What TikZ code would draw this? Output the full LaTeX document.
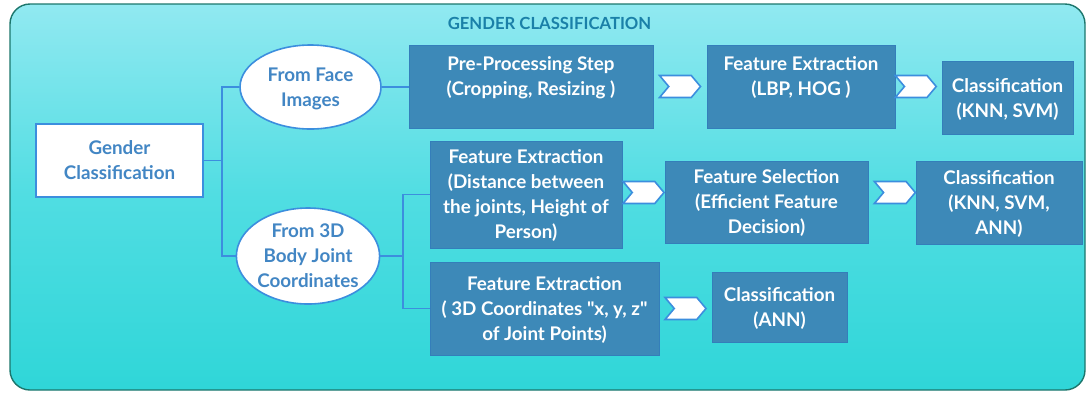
\documentclass[tikz,border=0pt]{standalone}
\usepackage{fontspec}
\setmainfont{Lato}[Ligatures=TeXOff]
\usetikzlibrary{shapes.geometric,shapes.symbols}

\definecolor{panelTop}{RGB}{145,233,241}
\definecolor{panelMid}{RGB}{80,221,226}
\definecolor{panelBot}{RGB}{47,214,216}
\definecolor{panelEdge}{RGB}{28,118,108}
\definecolor{titleCol}{RGB}{26,128,168}
\definecolor{stepFill}{RGB}{61,137,184}
\definecolor{stepEdge}{RGB}{52,126,186}
\definecolor{linkCol}{RGB}{60,142,222}
\definecolor{softText}{RGB}{66,134,196}

\tikzset{
  x=1pt, y=-1pt,
  txt/.style={font=\bfseries\fontsize{18.8}{25}\selectfont, align=center, inner sep=0pt, text depth=0pt},
  stepbox/.style={txt, rectangle, fill=stepFill, draw=stepEdge, line width=0.8pt, text=white},
  topstep/.style={stepbox, text depth=20pt},
  rootbox/.style={txt, rectangle, fill=white, draw=linkCol, line width=2pt, text=softText},
  branch/.style={txt, ellipse, fill=white, draw=linkCol, line width=1.6pt, text=softText, inner sep=0pt},
  chev/.style={signal, signal from=west, signal to=east, signal pointer angle=100,
               fill=white, draw=linkCol, line width=1.6pt, minimum width=41pt, minimum height=22pt, inner sep=0pt},
  link/.style={draw=linkCol, line width=1.8pt},
}

\begin{document}
\begin{tikzpicture}
\useasboundingbox (0,0) rectangle (1086,392);

% outer panel
\shade[top color=panelTop, bottom color=panelBot, middle color=panelMid]
  [rounded corners=20pt] (10,4) rectangle (1085,390);
\draw[panelEdge, line width=1.4pt, rounded corners=20pt] (10,4) rectangle (1085,390);

\node[font=\bfseries\fontsize{16.7}{20}\selectfont, text=titleCol] (title) at (549.5,23) {GENDER CLASSIFICATION};

% root and the two branches
\node[rootbox, minimum width=167pt, minimum height=73pt] (gc) at (119.5,160.5) {Gender\\Classification};
\node[branch, minimum width=141pt, minimum height=84pt] (e1) at (310.5,87) {From Face\\Images};
\node[branch, minimum width=136pt, minimum height=96pt] (e2) at (308,256) {From 3D\\Body Joint\\Coordinates};

% face pipeline
\node[topstep, minimum width=244pt, minimum height=83pt] (pp) at (531,86.5) {Pre-Processing Step\\(Cropping, Resizing )};
\node[topstep, minimum width=188pt, minimum height=83pt] (fe1) at (801,86.5) {Feature Extraction\\(LBP, HOG )};
\node[stepbox, minimum width=131pt, minimum height=73pt] (cl1) at (1007.5,97.5) {Classification\\(KNN, SVM)};

% body-joint pipelines
\node[stepbox, minimum width=192pt, minimum height=107pt] (fe2) at (526,194.5) {Feature Extraction\\(Distance between\\the joints, Height of\\Person)};
\node[stepbox, minimum width=203pt, minimum height=82pt] (fs) at (766.5,202) {Feature Selection\\(Efficient Feature\\Decision)};
\node[stepbox, minimum width=166pt, minimum height=83pt] (cl2) at (999,202.5) {Classification\\(KNN, SVM,\\ANN)};
\node[stepbox, minimum width=229pt, minimum height=93pt] (fe3) at (544.5,308.5) {Feature Extraction\\( 3D Coordinates "x, y, z"\\of Joint Points)};
\node[stepbox, minimum width=135pt, minimum height=70pt] (cl3) at (779.5,307) {Classification\\(ANN)};

% tree connectors
\coordinate (j1) at (222,160.5);
\draw[link] (gc.east) -- (j1);
\draw[link] (e1.west) -| (j1) |- (e2.west);
\draw[link] (e1.east) -- (e1.east -| pp.west);
\coordinate (j2) at (403,256);
\draw[link] (e2.east) -- (j2);
\draw[link] (fe2.west) -| (j2) |- (fe3.west);

% chevron arrows between steps
\path (pp.east) -- (pp.east -| fe1.west) node[chev, pos=0.5] (c1) {};
\path (fe1.east) -- (fe1.east -| cl1.west) node[chev, pos=0.44] (c2) {};
\path ([yshift=2pt]fe2.east) -- ([yshift=2pt]fe2.east -| fs.west) node[chev, pos=0.5] (c3) {};
\path ([yshift=9.5pt]fs.east) -- ([yshift=9.5pt]fs.east -| cl2.west) node[chev, pos=0.56] (c4) {};
\path (fe3.east) -- (fe3.east -| cl3.west) node[chev, pos=0.5] (c5) {};
\end{tikzpicture}
\end{document}
